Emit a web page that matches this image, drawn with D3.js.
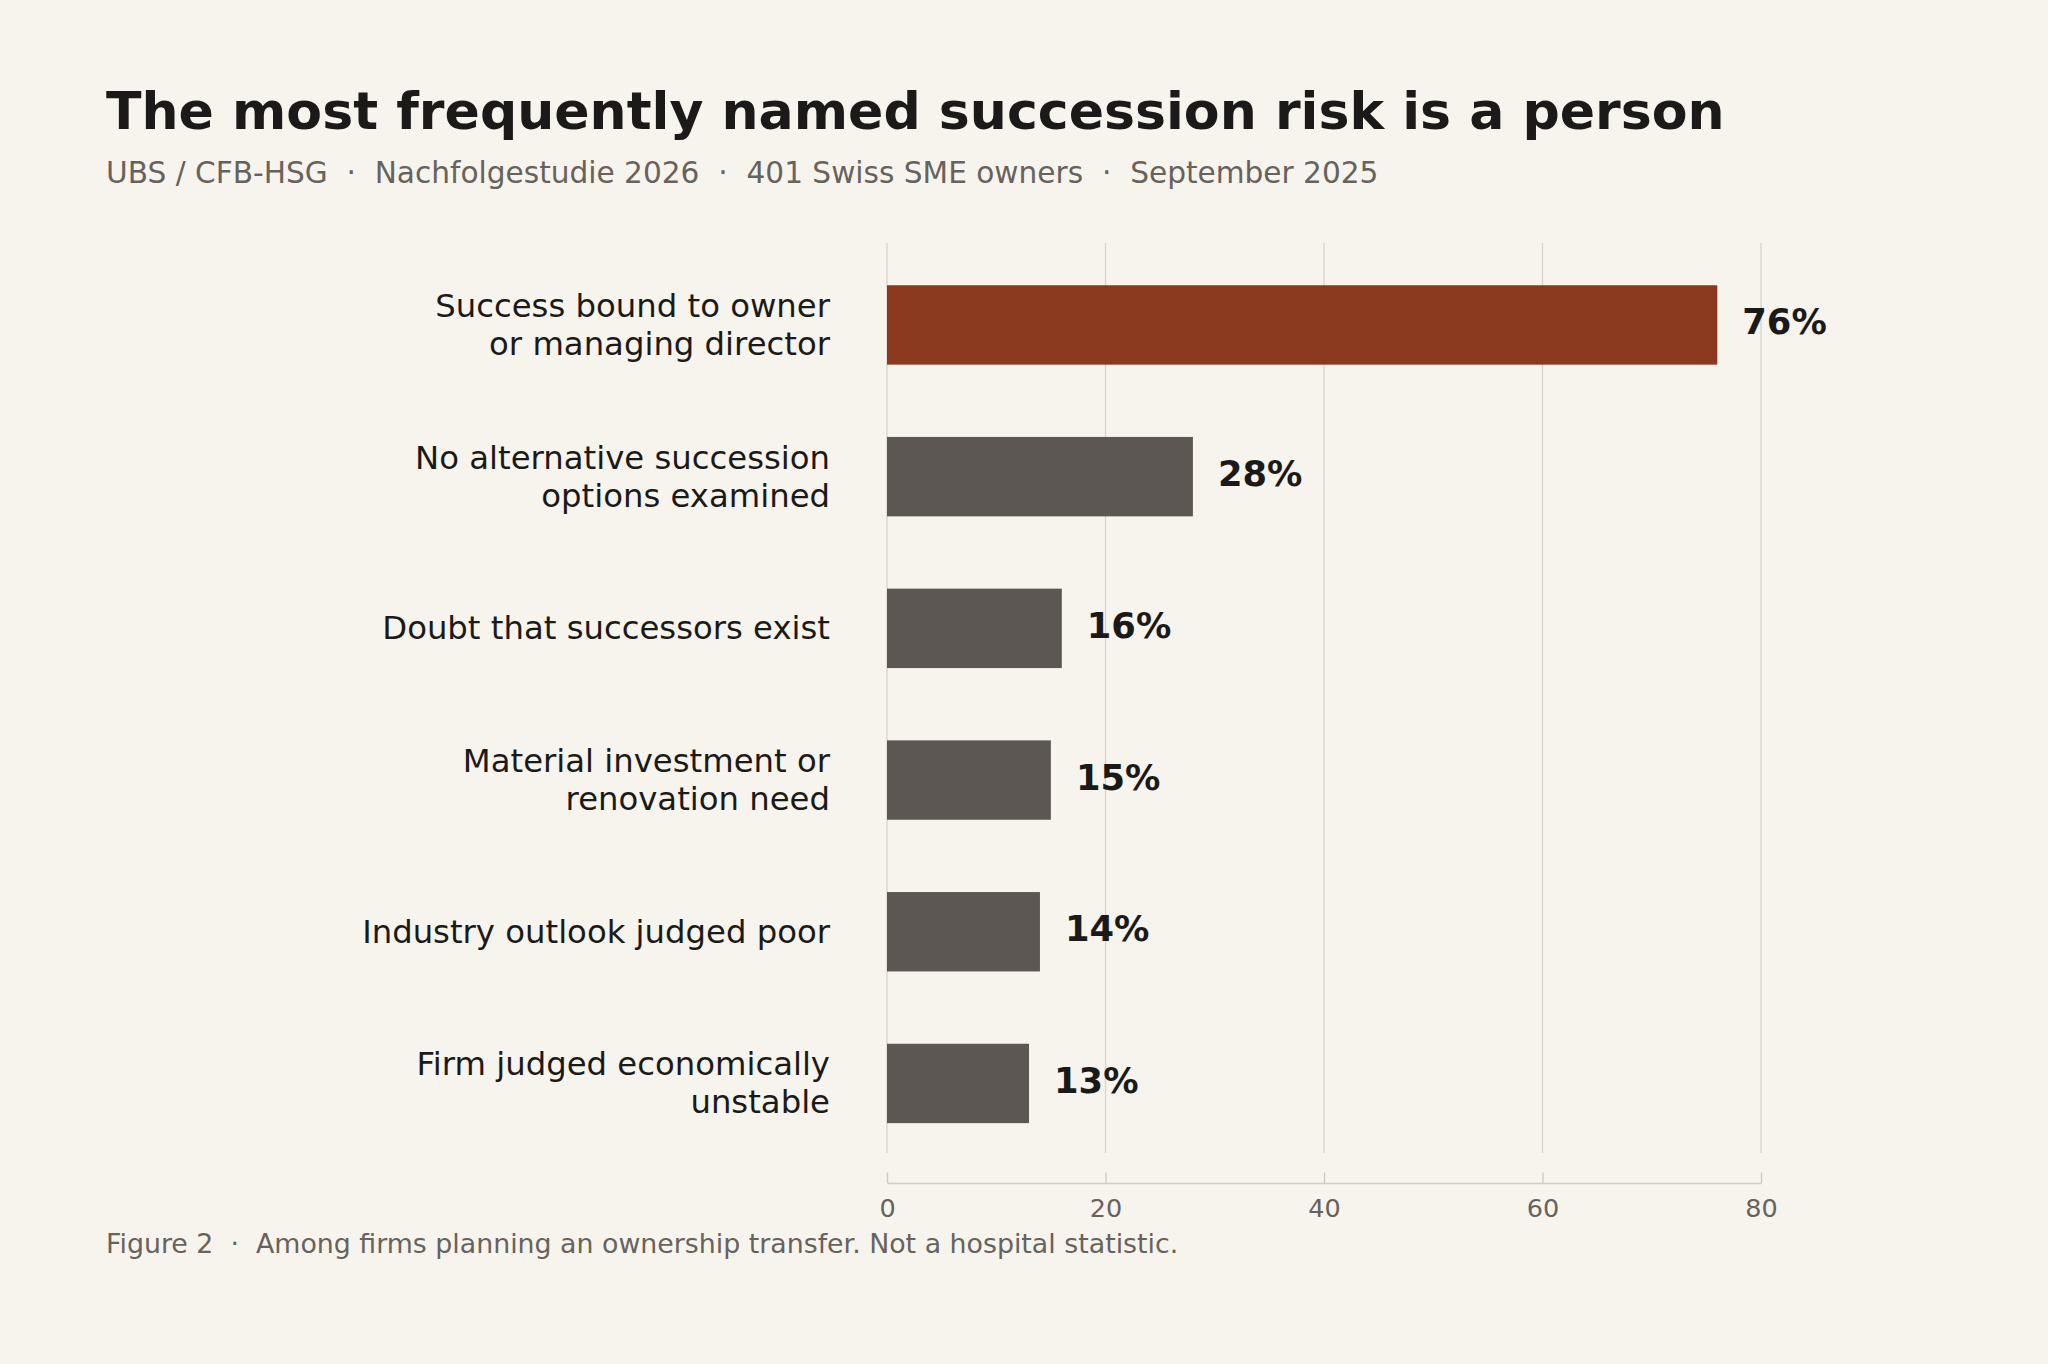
<!DOCTYPE html>
<html>
<head>
<meta charset="utf-8">
<script src="https://cdn.jsdelivr.net/npm/d3@7"></script>
<style>
  html, body { margin: 0; padding: 0; background: #f7f4ee; }
  svg { display: block; }
  text { font-family: "DejaVu Sans", sans-serif; }
</style>
</head>
<body>
<svg id="chart" width="2048" height="1364"></svg>
<script>
// ---- data ----
const categories = [
  "Success bound to owner\nor managing director",
  "No alternative succession\noptions examined",
  "Doubt that successors exist",
  "Material investment or\nrenovation need",
  "Industry outlook judged poor",
  "Firm judged economically\nunstable"
];
const values = [76, 28, 16, 15, 14, 13];
const highlighted = ["Success bound to owner\nor managing director"];
const xTicks = [0, 20, 40, 60, 80];
const xDomain = [0, 80];

const titleText = "The most frequently named succession risk is a person";
const subtitleText = "UBS / CFB-HSG  \u00b7  Nachfolgestudie 2026  \u00b7  401 Swiss SME owners  \u00b7  September 2025";
const captionText = "Figure 2  \u00b7  Among firms planning an ownership transfer. Not a hospital statistic.";

// ---- layout ----
const W = 2048, H = 1364;
const plotLeft = 887, plotRight = 1761;
const bandTop = 249.1, bandBottom = 1159.3;
const gridTop = 243, gridBottom = 1153;
const axisY = 1183;

const colors = {
  bg: "#f7f4ee",
  text: "#1b1a18",
  muted: "#67625c",
  grid: "#d9d5ce",
  axis: "#cfcbc4",
  bar: "#5c5752",
  highlight: "#8a391e"
};

const svg = d3.select("#chart");
svg.append("rect").attr("width", W).attr("height", H).attr("fill", colors.bg);

const x = d3.scaleLinear().domain(xDomain).range([plotLeft, plotRight]);
const y = d3.scaleBand().domain(categories).range([bandTop, bandBottom])
  .paddingInner(0.4766).paddingOuter(0.2383);

// title, subtitle
svg.append("text").attr("x", 106).attr("y", 128.5)
  .attr("font-size", 52.1).attr("font-weight", "bold").attr("fill", colors.text)
  .text(titleText);
svg.append("text").attr("x", 106).attr("y", 182.7)
  .attr("font-size", 29.6).attr("fill", colors.muted)
  .attr("xml:space", "preserve").style("white-space", "pre")
  .text(subtitleText);

// gridlines
svg.append("g").selectAll("line").data(xTicks).join("line")
  .attr("x1", d => x(d)).attr("x2", d => x(d))
  .attr("y1", gridTop).attr("y2", gridBottom)
  .attr("stroke", colors.grid).attr("stroke-width", 1.4);

// bars
svg.append("g").selectAll("rect").data(categories).join("rect")
  .attr("x", x(0))
  .attr("y", d => y(d))
  .attr("width", (d, i) => x(values[i]) - x(0))
  .attr("height", y.bandwidth())
  .attr("fill", d => highlighted.includes(d) ? colors.highlight : colors.bar);

// value labels
svg.append("g").selectAll("text").data(categories).join("text")
  .attr("x", (d, i) => x(values[i]) + 25)
  .attr("y", d => y(d) + y.bandwidth() / 2 + 9.5)
  .attr("font-size", 35.3).attr("font-weight", "bold").attr("fill", colors.text)
  .text((d, i) => values[i] + "%");

// category labels
const lineH = 38;
const labels = svg.append("g").selectAll("text").data(categories).join("text")
  .attr("text-anchor", "end")
  .attr("font-size", 32.3).attr("fill", colors.text);
labels.each(function(d) {
  const lines = d.split("\n");
  const cy = y(d) + y.bandwidth() / 2;
  const first = cy + 11 - (lines.length - 1) * lineH / 2;
  d3.select(this).selectAll("tspan").data(lines).join("tspan")
    .attr("x", 830)
    .attr("y", (l, j) => first + j * lineH)
    .text(l => l);
});

// x axis
const axis = d3.axisBottom(x).tickValues(xTicks).tickSizeInner(-10.5).tickSizeOuter(0).tickPadding(15.5)
  .tickFormat(d3.format("d"));
const gx = svg.append("g").attr("transform", `translate(0,${axisY})`).call(axis);
gx.select(".domain").attr("stroke", colors.axis).attr("stroke-width", 1.6);
gx.selectAll(".tick line").attr("stroke", colors.axis).attr("stroke-width", 1.4);
gx.selectAll(".tick text").attr("font-size", 25.5).attr("fill", colors.muted)
  .attr("font-family", "DejaVu Sans, sans-serif");

// caption
svg.append("text").attr("x", 106).attr("y", 1253.3)
  .attr("font-size", 26.8).attr("fill", colors.muted)
  .attr("xml:space", "preserve").style("white-space", "pre")
  .text(captionText);
</script>
</body>
</html>
